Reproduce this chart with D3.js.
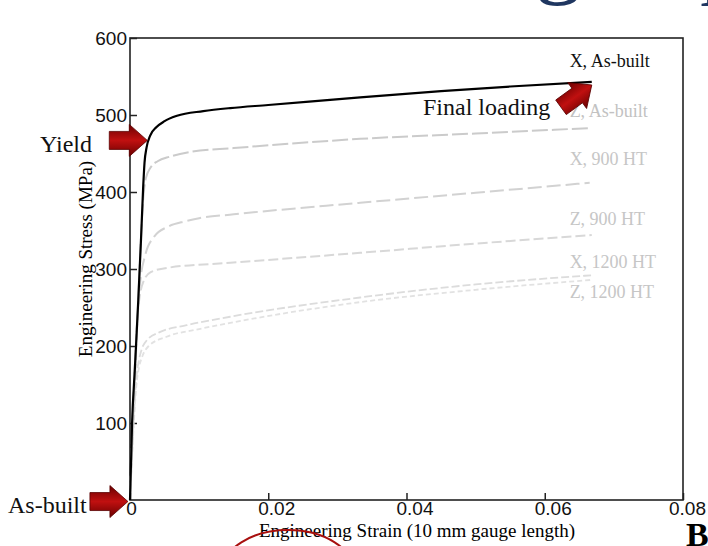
<!DOCTYPE html>
<html>
<head>
<meta charset="utf-8">
<style>
body { margin: 0; background: #fff; }
svg { display: block; background: #fff; font-family: "Liberation Serif", "DejaVu Serif", serif; }
.axis text { font-size: 19px; fill: #111; }
.axis line { stroke: #222; stroke-width: 1.5; }
.curve { fill: none; }
.note { font-size: 24px; fill: #111; }
.tag { font-size: 18px; }
</style>
</head>
<body>
<svg id="svg"></svg>
<script src="https://cdn.jsdelivr.net/npm/d3@7/dist/d3.min.js"></script>
<script>
// strain / stress pairs
var xAsBuilt  = [[0,0],[0.0003,100],[0.0007,170],[0.0012,260],[0.0016,340],[0.0019,405],[0.0021,438],[0.0024,458],[0.0029,473],[0.0038,484],[0.005,492],[0.0068,499],[0.0106,505],[0.0145,509],[0.02,513],[0.0333,523],[0.045,531],[0.055,537],[0.0668,543]]
var zAsBuilt  = [[0,0],[0.0012,260],[0.0017,360],[0.0020,400],[0.0023,418],[0.0030,432],[0.0040,440],[0.0058,446],[0.0087,452],[0.015,457],[0.0333,469],[0.05,476],[0.0665,483]]
var x900      = [[0,0],[0.0011,240],[0.0015,285],[0.0022,318],[0.0035,342],[0.0055,355],[0.008,362],[0.01,366],[0.015,371],[0.0333,386],[0.05,399],[0.0665,412]]
var z900      = [[0,0],[0.0011,240],[0.0014,264],[0.0020,285],[0.0030,296],[0.0058,302],[0.0145,308],[0.0333,321],[0.05,333],[0.0668,344]]
var x1200     = [[0,0],[0.0010,165],[0.0013,182],[0.0017,196],[0.0025,208],[0.0043,218],[0.0082,227],[0.0145,238],[0.0333,263],[0.05,280],[0.067,292]]
var z1200     = [[0,0],[0.0010,155],[0.0013,172],[0.0018,187],[0.0027,200],[0.0053,212],[0.01,222],[0.0145,230],[0.0333,257],[0.05,273],[0.067,286]]

var seriesNames = ["X, As-built", "Z, As-built", "X, 900 HT", "Z, 900 HT", "X, 1200 HT", "Z, 1200 HT"]
var labelStress = [562, 497, 435, 357, 301, 262]
var labelStrain = 0.0636

var strainTicks = [0, 0.02, 0.04, 0.06, 0.08]
var stressTicks = [100, 200, 300, 400, 500, 600]

// arrows: tip in data coords
var arrowTips = [
  {name: "Yield", strain: 0.0025, stress: 467, angle: 0},
  {name: "As-built", strain: -0.0003, stress: -2, angle: 0},
  {name: "Final loading", strain: 0.0668, stress: 539, angle: -36}
]

var width = 708, height = 546
var margin = {top: 38, right: 25, bottom: 46, left: 130}
var w = 683 - margin.left, h = 500 - margin.top

var svg = d3.select("#svg").attr("width", width).attr("height", height)

// slide title bleeding in from above
svg.append("text")
    .attr("x", 748).attr("y", -14)
    .attr("text-anchor", "end")
    .style("font-size", "96px")
    .style("fill", "#1f3660")
    .text("Tensile testing: a p")

var chart = svg.append("g").attr("transform", "translate(" + margin.left + "," + margin.top + ")")

var xScale = d3.scaleLinear().domain([0, 0.08]).range([0, w])
var yScale = d3.scaleLinear().domain([0, 600]).range([h, 0])

var xAxis = d3.axisBottom(xScale).tickValues(strainTicks).tickSize(-7)
    .tickFormat(function(d) { return d === 0 ? "0" : d.toFixed(2) })
var yAxis = d3.axisLeft(yScale).tickValues(stressTicks).tickSize(-7)

var gx = chart.append("g").attr("class", "x axis").attr("transform", "translate(0," + h + ")").call(xAxis)
gx.select(".domain").remove()
gx.selectAll("text").attr("y", 15).attr("dy", 0)
    .attr("dx", function(d, i) { return i === 0 ? 1 : (i === strainTicks.length - 1 ? 4 : 8) })

var gy = chart.append("g").attr("class", "y axis").call(yAxis)
gy.select(".domain").remove()
gy.selectAll("text").attr("x", -3)

// frame
chart.append("rect")
    .attr("width", w).attr("height", h)
    .attr("fill", "none").attr("stroke", "#222").attr("stroke-width", 1.6)

var line = d3.line()
    .x(function(d) { return xScale(d[0]) })
    .y(function(d) { return yScale(d[1]) })
    .curve(d3.curveMonotoneX)

var styles = [
  {data: xAsBuilt, stroke: "#000", dash: null, sw: 2.2, text: "#111"},
  {data: zAsBuilt, stroke: "#cbcbcb", dash: "16,4", sw: 2, text: "#c2c2c2"},
  {data: x900, stroke: "#d2d2d2", dash: "14,5", sw: 2, text: "#c6c6c6"},
  {data: z900, stroke: "#d8d8d8", dash: "10,4", sw: 2, text: "#c6c6c6"},
  {data: x1200, stroke: "#dcdcdc", dash: "8,3", sw: 1.8, text: "#c6c6c6"},
  {data: z1200, stroke: "#e2e2e2", dash: "5,3", sw: 1.8, text: "#c6c6c6"}
]

// grey ones first so the black curve sits on top
styles.slice().reverse().forEach(function(s) {
  chart.append("path")
      .attr("class", "curve")
      .attr("d", line(s.data))
      .attr("stroke", s.stroke)
      .attr("stroke-width", s.sw)
      .attr("stroke-dasharray", s.dash)
})

chart.selectAll(".tag")
    .data(seriesNames)
    .enter().append("text")
    .attr("class", "tag")
    .attr("x", xScale(labelStrain))
    .attr("y", function(d, i) { return yScale(labelStress[i]) })
    .style("fill", function(d, i) { return styles[i].text })
    .text(function(d) { return d })

// axis titles
svg.append("text")
    .attr("transform", "rotate(-90)")
    .attr("x", -259).attr("y", 92)
    .attr("text-anchor", "middle")
    .style("font-size", "19px")
    .text("Engineering Stress (MPa)")
svg.append("text")
    .attr("x", 417).attr("y", 537)
    .attr("text-anchor", "middle")
    .style("font-size", "19px")
    .text("Engineering Strain (10 mm gauge length)")

// block arrows
var defs = svg.append("defs")
var grad = defs.append("linearGradient").attr("id", "arrowFill")
    .attr("x1", 0).attr("y1", 0).attr("x2", 0).attr("y2", 1)
grad.append("stop").attr("offset", "0%").attr("stop-color", "#6a0000")
grad.append("stop").attr("offset", "50%").attr("stop-color", "#c01010")
grad.append("stop").attr("offset", "100%").attr("stop-color", "#6a0000")

var arrowShape = "M-38,-9 L-18,-9 L-18,-16 L0,0 L-18,16 L-18,9 L-38,9 Z"
arrowTips.forEach(function(a) {
  chart.append("path")
      .attr("d", arrowShape)
      .attr("fill", "url(#arrowFill)")
      .attr("stroke", "#5a0000").attr("stroke-width", 0.8)
      .attr("transform", "translate(" + xScale(a.strain) + "," + yScale(a.stress) + ") rotate(" + a.angle + ")")
})

// annotation words
svg.append("text").attr("class", "note").attr("x", 40).attr("y", 152).text("Yield")
svg.append("text").attr("class", "note").attr("x", 8).attr("y", 513).text("As-built")
svg.append("text").attr("class", "note").attr("x", 423).attr("y", 115).text("Final loading")

// red circle and panel letter from the slide
svg.append("ellipse")
    .attr("cx", 288).attr("cy", 572).attr("rx", 66).attr("ry", 42)
    .attr("fill", "none").attr("stroke", "#a8100f").attr("stroke-width", 2)
svg.append("text")
    .attr("x", 686).attr("y", 546)
    .style("font-size", "34px").style("font-weight", "bold")
    .text("B")
</script>
</body>
</html>
